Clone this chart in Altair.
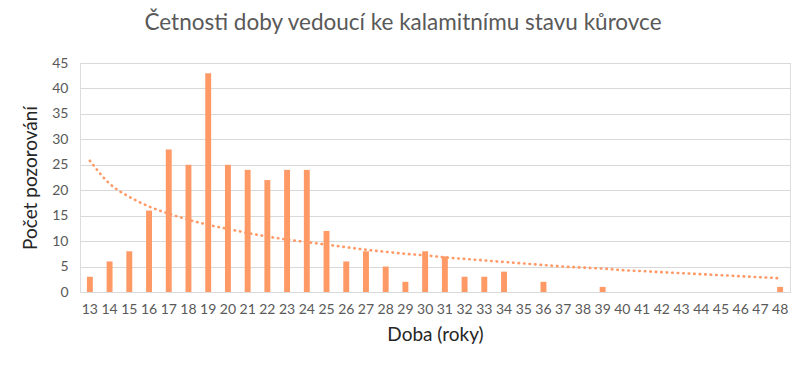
import altair as alt
import pandas as pd

doba = list(range(13, 49))
pocet = [3, 6, 8, 16, 28, 25, 43, 25, 24, 22, 24, 24, 12, 6, 8, 5, 2, 8, 7, 3, 3, 4,
         0, 2, 0, 0, 1, 0, 0, 0, 0, 0, 0, 0, 0, 1]
trend = [25.8, 21.3, 18.7, 16.8, 15.4, 14.2, 13.2, 12.4, 11.6, 10.9, 10.3, 9.8,
         9.3, 8.8, 8.3, 7.9, 7.5, 7.2, 6.8, 6.5, 6.2, 5.9, 5.6, 5.3, 5.0, 4.8,
         4.6, 4.3, 4.1, 3.9, 3.7, 3.5, 3.3, 3.1, 2.9, 2.7]
y_ticks = [0, 5, 10, 15, 20, 25, 30, 35, 40, 45]

df = pd.DataFrame({"doba": [str(d) for d in doba], "pocet": pocet, "trend": trend})
order = [str(d) for d in doba]
FONT = "Lato"
ORANGE = "#FF9966"

xaxis = alt.Axis(labelAngle=0, ticks=False, domain=False, labelPadding=10,
                 labelFontSize=14, labelColor="#595959", labelFont=FONT,
                 labelOverlap=False, grid=False,
                 titleFont=FONT, titleFontSize=19, titleFontWeight="normal",
                 titleColor="#262626", titlePadding=9)
yaxis = alt.Axis(values=y_ticks, ticks=False, domain=False,
                 labelPadding=12, labelOverlap=False,
                 labelFontSize=14, labelColor="#595959", labelFont=FONT,
                 titleFont=FONT, titleFontSize=19, titleFontWeight="normal",
                 titleColor="#262626", titlePadding=11,
                 gridColor="#d9d9d9", gridWidth=1)
xscale = alt.Scale(paddingInner=0.7, paddingOuter=0.35)
yscale = alt.Scale(domain=[0, 45], nice=False)

bars = alt.Chart(df).mark_bar(color=ORANGE).encode(
    x=alt.X("doba:N", sort=order, title="Doba (roky)", scale=xscale, axis=xaxis),
    y=alt.Y("pocet:Q", title="Počet pozorování", scale=yscale, axis=yaxis)
)

line = alt.Chart(df).mark_line(color=ORANGE, strokeWidth=2.6, strokeDash=[0.5, 5],
                               strokeCap="round", interpolate="monotone").encode(
    x=alt.X("doba:N", sort=order, title="Doba (roky)", scale=xscale, axis=xaxis),
    y=alt.Y("trend:Q", title="Počet pozorování", scale=yscale, axis=yaxis)
)

chart = alt.layer(bars, line).properties(
    width=710, height=229,
    autosize=alt.AutoSizeParams(type="none"),
    padding={"left": 80, "top": 63, "right": 16, "bottom": 79},
    title=alt.TitleParams("Četnosti doby vedoucí ke kalamitnímu stavu kůrovce",
                          font=FONT, fontSize=22.5, fontWeight="normal",
                          color="#595959", anchor="middle", dx=-32, offset=22),
).configure_view(stroke=None).configure(background="white")

chart.save("out.html", embed_options={"renderer": "svg", "actions": False})
